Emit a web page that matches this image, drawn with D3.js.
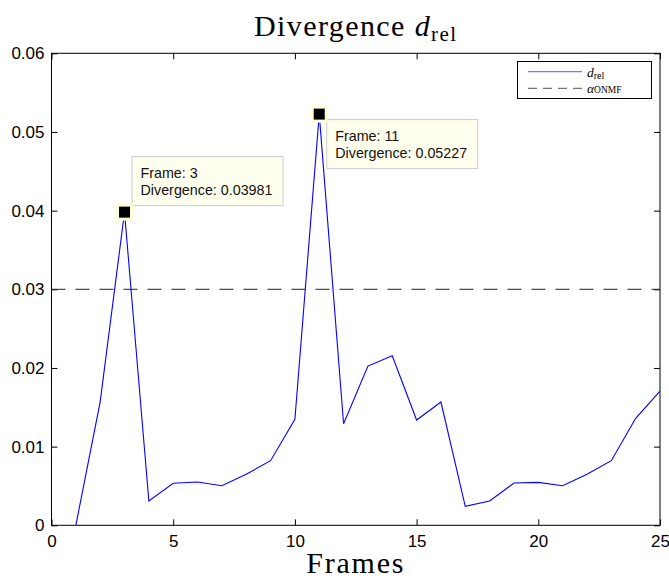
<!DOCTYPE html>
<html>
<head>
<meta charset="utf-8">
<script src="https://cdn.jsdelivr.net/npm/d3@7"></script>
<style>
  body { margin: 0; background: #fff; }
  svg { display: block; }
  .tick text { font-family: "Liberation Sans", Arial, sans-serif; font-size: 17px; fill: #000; }
  .serif { font-family: "Liberation Serif", "Times New Roman", serif; fill: #000; }
</style>
</head>
<body>
<div id="chart"></div>
<script>
// frames 1..25, relative divergence
const frames = d3.range(1, 26);
const divergence = [
  0.0, 0.0157, 0.03981, 0.00309, 0.00534, 0.0055, 0.00503, 0.00648, 0.00821, 0.01347,
  0.05227, 0.01291, 0.02024, 0.02155, 0.01338, 0.01567, 0.00241, 0.00309, 0.00537, 0.00546,
  0.00503, 0.00648, 0.00821, 0.0136, 0.01706
];
const threshold = 0.03;
const xTicks = [0, 5, 10, 15, 20, 25];
const yTicks = [0, 0.01, 0.02, 0.03, 0.04, 0.05, 0.06];
const tipFrames = [3, 11];
const tipPlacement = ["above", "below"];

const W = 669, H = 578;
const plot = { left: 51.5, right: 660, top: 53.3, bottom: 525.3 };

const svg = d3.select("#chart").append("svg")
  .attr("width", W)
  .attr("height", H);

const x = d3.scaleLinear().domain([0, 25]).range([plot.left, plot.right]);
const y = d3.scaleLinear().domain([0, 0.06]).range([plot.bottom, plot.top]);

// axes (ticks drawn inward, box on)
const fmtY = d => d === 0 ? "0" : d3.format(".2f")(d);

svg.append("g")
  .attr("transform", `translate(0,${plot.bottom})`)
  .call(d3.axisBottom(x).tickValues(xTicks).tickSizeInner(-6).tickSizeOuter(0).tickPadding(10))
  .call(g => g.select(".domain").remove());

svg.append("g")
  .attr("transform", `translate(${plot.left},0)`)
  .call(d3.axisLeft(y).tickValues(yTicks).tickFormat(fmtY).tickSizeInner(-6).tickSizeOuter(0).tickPadding(7))
  .call(g => g.select(".domain").remove());

svg.append("g")
  .attr("transform", `translate(0,${plot.top})`)
  .call(d3.axisTop(x).tickValues(xTicks).tickFormat("").tickSizeInner(-6).tickSizeOuter(0))
  .call(g => g.select(".domain").remove());

svg.append("g")
  .attr("transform", `translate(${plot.right},0)`)
  .call(d3.axisRight(y).tickValues(yTicks).tickFormat("").tickSizeInner(-6).tickSizeOuter(0))
  .call(g => g.select(".domain").remove());

svg.selectAll(".tick line").attr("stroke", "#000");

svg.append("rect")
  .attr("x", plot.left)
  .attr("y", plot.top)
  .attr("width", plot.right - plot.left)
  .attr("height", plot.bottom - plot.top)
  .attr("fill", "none")
  .attr("stroke", "#000")
  .attr("stroke-width", 1);

// threshold line
svg.append("line")
  .attr("x1", x(0)).attr("x2", x(25))
  .attr("y1", y(threshold)).attr("y2", y(threshold))
  .attr("stroke", "#222")
  .attr("stroke-width", 1)
  .attr("stroke-dasharray", "14,10");

// divergence series
const line = d3.line()
  .x((d, i) => x(frames[i]))
  .y(d => y(d));

svg.append("path")
  .datum(divergence)
  .attr("d", line)
  .attr("fill", "none")
  .attr("stroke", "#0000ff")
  .attr("stroke-width", 1.1);

// data tips
tipFrames.forEach((f, k) => {
  const v = divergence[frames.indexOf(f)];
  const px = x(f), py = y(v);
  const bw = 151, bh = 49;
  const bx = px + 7;
  const by = tipPlacement[k] === "above" ? py - 7 - bh : py + 5;
  const g = svg.append("g");
  g.append("rect")
    .attr("x", bx + 0.5).attr("y", by + 0.5)
    .attr("width", bw).attr("height", bh)
    .attr("fill", "#ffffee")
    .attr("stroke", "#cccccc");
  const t = g.append("text")
    .attr("font-family", "Liberation Sans, Arial, sans-serif")
    .attr("font-size", 14.3)
    .attr("fill", "#111");
  t.append("tspan").attr("x", bx + 9).attr("y", by + 22).text(`Frame: ${f}`);
  t.append("tspan").attr("x", bx + 9).attr("y", by + 38.5).text(`Divergence: ${v.toFixed(5)}`);
  g.append("rect")
    .attr("x", px - 8.5).attr("y", py - 8.5)
    .attr("width", 17).attr("height", 17)
    .attr("fill", "#fdfdd6");
  g.append("rect")
    .attr("x", px - 5.5).attr("y", py - 5.5)
    .attr("width", 11).attr("height", 11)
    .attr("fill", "#000");
});

// legend
const lg = svg.append("g");
lg.append("rect")
  .attr("x", 517.5).attr("y", 61.5)
  .attr("width", 134).attr("height", 37)
  .attr("fill", "#fff")
  .attr("stroke", "#000");
lg.append("line")
  .attr("x1", 528).attr("x2", 582).attr("y1", 71.7).attr("y2", 71.7)
  .attr("stroke", "#7777ff").attr("stroke-width", 1.2);
lg.append("line")
  .attr("x1", 528).attr("x2", 582).attr("y1", 88.3).attr("y2", 88.3)
  .attr("stroke", "#777").attr("stroke-width", 1.2)
  .attr("stroke-dasharray", "9,6");

const l1 = lg.append("text").attr("class", "serif").attr("x", 587).attr("y", 76.5).attr("font-size", 13.5);
l1.append("tspan").attr("font-style", "italic").text("d");
l1.append("tspan").attr("font-size", 10).attr("dy", 2).text("rel");

const l2 = lg.append("text").attr("class", "serif").attr("x", 587).attr("y", 92.5).attr("font-size", 13.5);
l2.append("tspan").attr("font-style", "italic").text("α");
l2.append("tspan").attr("font-size", 9.5).attr("dy", 0.5).text("ONMF");

// title and x label
const title = svg.append("text")
  .attr("class", "serif")
  .attr("x", (plot.left + plot.right) / 2)
  .attr("y", 36)
  .attr("text-anchor", "middle")
  .attr("font-size", 30)
  .attr("letter-spacing", 1.4);
title.append("tspan").text("Divergence ");
title.append("tspan").attr("font-style", "italic").text("d");
title.append("tspan").attr("font-size", 21).attr("dy", 5).text("rel");

svg.append("text")
  .attr("class", "serif")
  .attr("x", (plot.left + plot.right) / 2)
  .attr("y", 573)
  .attr("text-anchor", "middle")
  .attr("font-size", 30)
  .attr("letter-spacing", 1.8)
  .text("Frames");
</script>
</body>
</html>
